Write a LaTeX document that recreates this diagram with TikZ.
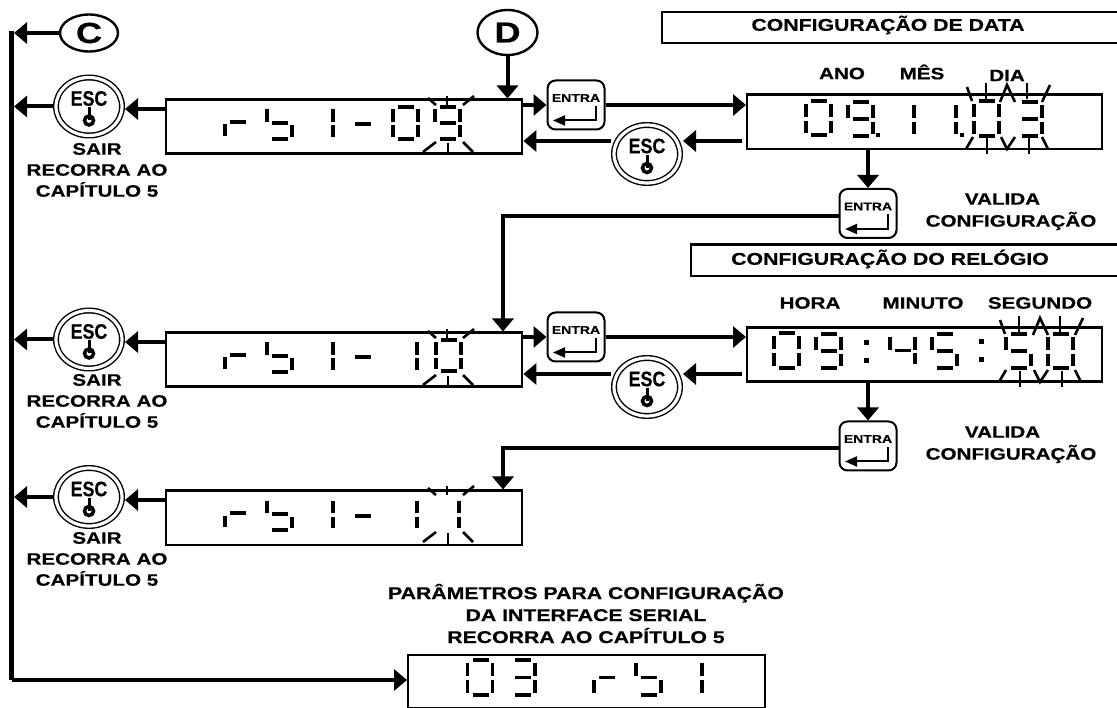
\documentclass[tikz,border=0pt]{standalone}
\usepackage{fontspec}
\setmainfont[FakeStretch=1.25,FakeBold=0.5]{Liberation Sans}
\usepackage{tikz}
\usetikzlibrary{arrows.meta,shapes.geometric,calc}

\tikzset{
	wire/.style={line width=4pt,-{Triangle[length=13pt,width=21pt]}},
	dispbox/.style={draw,line width=2.4pt,inner sep=0pt,anchor=north west},
	headbox/.style={draw,line width=2.4pt,inner sep=0pt,anchor=north west},
	lbl/.style={font=\bfseries\fontsize{16.5}{21}\selectfont,align=center,inner sep=0pt},
	bigl/.style={font=\bfseries\fontsize{17}{22}\selectfont,align=center,inner sep=0pt},
	lettercirc/.style={draw,ellipse,line width=2.4pt,inner sep=0pt,font=\bfseries\fontsize{29}{29}\selectfont},
	entrabox/.style={draw,line width=2pt,rounded corners=8pt,minimum width=57pt,minimum height=49pt,inner sep=0pt},
	esccirc/.style={draw,ellipse,double,double distance=3.2pt,line width=1.4pt,minimum width=66pt,minimum height=58pt,inner sep=0pt,outer sep=3pt},
	seg/.style={line width=3.6pt},
	ray/.style={line width=2.6pt}
}

% one digit: left, top, height, lit segments
\newcommand{\digitseg}[4]{
	\begin{scope}[shift={(#1,#2)},yscale=#3/32]
		\foreach \s in {#4}{
			\ifx\s\segA\draw[seg] (5,0) -- (21,0);\fi
			\ifx\s\segB\draw[seg] (25,2.5) -- (25,15);\fi
			\ifx\s\segC\draw[seg] (25,18.5) -- (25,30);\fi
			\ifx\s\segD\draw[seg] (5,32) -- (21,32);\fi
			\ifx\s\segE\draw[seg] (0,18.5) -- (0,30);\fi
			\ifx\s\segF\draw[seg] (0,2.5) -- (0,15);\fi
			\ifx\s\segG\draw[seg] (5,16) -- (21,16);\fi
		}
	\end{scope}
}
\def\segA{a}\def\segB{b}\def\segC{c}\def\segD{d}\def\segE{e}\def\segF{f}\def\segG{g}

% square dot of a display
\newcommand{\segdot}[3]{
	\fill (#1-#3,#2-#3) rectangle (#1+#3,#2+#3);
}

% the marks round a blinking digit (left display)
\newcommand{\blinkone}[1]{
	\begin{scope}[shift={(0,#1)}]
		\draw[ray] (428,98) -- (436,105);
		\draw[ray] (447,96) -- (447,105);
		\draw[ray] (474,96) -- (463,105);
		\draw[ray] (436,142) -- (423,152);
		\draw[ray] (448,143) -- (448,155);
		\draw[ray] (463,142) -- (473,152);
	\end{scope}
}
% the marks round two blinking digits (right display)
\newcommand{\blinktwo}[2]{
	\begin{scope}[shift={(#1,#2)}]
		\draw[ray] (967,87) -- (972,101);
		\draw[ray] (986,83) -- (986,99);
		\draw[ray] (1000,102) -- (1007,85) -- (1015,102);
		\draw[ray] (1027,83) -- (1027,99);
		\draw[ray] (1050,85) -- (1042,102);
		\draw[ray] (973,137) -- (966,149);
		\draw[ray] (987,138) -- (987,154);
		\draw[ray] (1001,137) -- (1007,149) -- (1015,137);
		\draw[ray] (1029,138) -- (1029,154);
		\draw[ray] (1042,137) -- (1048,149);
	\end{scope}
}
% key with the return arrow
\newcommand{\entrakey}[3]{
	\node[entrabox] (#1) at (#2,#3) {};
	\node[font=\bfseries\fontsize{11.2}{10}\selectfont,inner sep=0pt] (#1t) at (#2,#3-7) {ENTRA};
	\coordinate (#1a) at (#2+20,#3+1);
	\coordinate (#1b) at (#2-23,#3+15.5);
	\draw[line width=2pt,-{Triangle[length=12pt,width=10pt]}] (#1a) |- (#1b);
}
% key with the power mark
\newcommand{\esckey}[3]{
	\node[esccirc] (#1) at (#2,#3) {};
	\node[font=\bfseries\fontsize{21}{21}\selectfont,inner sep=0pt] (#1t) at (#2,#3-8) {\addfontfeature{FakeStretch=0.85}ESC};
	\node[draw,circle,line width=3.5pt,minimum size=9pt,inner sep=0pt] (#1p) at (#2,#3+14) {};
	\draw[line width=3pt] (#2,#3+1) -- (#1p.center);
}

\begin{document}
\begin{tikzpicture}[x=1pt,y=-1pt]
	\useasboundingbox (0,0) rectangle (1117,708);
	
	% titles
	\node[headbox,minimum width=458pt,minimum height=31pt] (datehead) at (661,11) {};
	\node[bigl] (datetitle) at (888,25) {CONFIGURAÇÃO DE DATA};
	\node[headbox,minimum width=429pt,minimum height=31.5pt] (timehead) at (690,243.5) {};
	\node[bigl] (timetitle) at (890,259) {CONFIGURAÇÃO DO RELÓGIO};
	
	% displays
	\node[dispbox,minimum width=356pt,minimum height=54pt] (rb09) at (165,98.5) {};
	\node[dispbox,minimum width=356pt,minimum height=54pt] (rb10) at (165,331.5) {};
	\node[dispbox,minimum width=356pt,minimum height=54pt] (rb11) at (165,489.5) {};
	\node[dispbox,minimum width=357pt,minimum height=53pt] (rb03) at (407,653.5) {};
	\node[dispbox,minimum width=355pt,minimum height=54.5pt] (datebox) at (746,93.5) {};
	\node[dispbox,minimum width=355pt,minimum height=54pt] (timebox) at (746,326.5) {};
	
	% display digits
	\digitseg{225}{106}{32}{e,g}
	\digitseg{267}{107}{32}{f,g,c,d}
	\digitseg{308}{107}{32}{b,c}
	\digitseg{350}{108}{32}{g}
	\digitseg{393}{107}{32}{a,b,c,d,e,f}
	\digitseg{435}{107}{32}{a,b,c,d,f,g}
	\blinkone{0}
	
	\digitseg{225}{339}{32}{e,g}
	\digitseg{267}{340}{32}{f,g,c,d}
	\digitseg{308}{340}{32}{b,c}
	\digitseg{350}{341}{32}{g}
	\digitseg{392}{340}{32}{b,c}
	\digitseg{436}{340}{31}{a,b,c,d,e,f}
	\blinkone{233}
	
	\digitseg{225}{497}{32}{e,g}
	\digitseg{267}{498}{32}{f,g,c,d}
	\digitseg{308}{498}{32}{b,c}
	\digitseg{350}{500}{32}{g}
	\digitseg{392}{498}{32}{b,c}
	\digitseg{434}{498}{32}{b,c}
	\blinkone{390}
	
	\digitseg{467.5}{660}{35}{a,b,c,d,e,f}
	\digitseg{510}{660}{35}{a,b,c,d,g}
	\digitseg{594}{660}{35}{e,g}
	\digitseg{636}{660}{35}{f,g,c,d}
	\digitseg{677}{660}{35}{b,c}
	
	\digitseg{806}{101}{34}{a,b,c,d,e,f}
	\digitseg{848}{102}{34}{a,b,c,d,f,g}
	\segdot{878}{135.5}{2}
	\digitseg{889}{102}{34}{b,c}
	\digitseg{931}{102}{34}{b,c}
	\segdot{962}{135.5}{2}
	\digitseg{974}{101}{35}{a,b,c,d,e,f}
	\digitseg{1017}{102}{34}{a,b,c,d,g}
	\blinktwo{0}{0}
	
	\digitseg{774}{333}{35}{a,b,c,d,e,f}
	\digitseg{816}{334}{34}{a,b,c,d,f,g}
	\segdot{866}{343}{2.5}
	\segdot{866}{361}{2.5}
	\digitseg{890}{335}{31}{f,b,g,c}
	\digitseg{932}{334}{34}{a,f,g,c,d}
	\segdot{981}{342}{2.5}
	\segdot{981}{360}{2.5}
	\digitseg{1006}{334}{34}{a,f,g,c,d}
	\digitseg{1048}{334}{34}{a,b,c,d,e,f}
	\blinktwo{33}{233}
	
	% keys
	\node[lettercirc,minimum width=58pt,minimum height=37pt] (keyc) at (89,33) {C};
	\node[lettercirc,minimum width=60pt,minimum height=45pt] (keyd) at (507.5,32.5) {D};
	\esckey{esca}{89}{106.5}
	\esckey{escb}{89}{339.5}
	\esckey{escc}{89}{497}
	\esckey{escd}{647}{154}
	\esckey{esce}{647}{387}
	\entrakey{enta}{576}{105}
	\entrakey{entb}{576}{337}
	\entrakey{entc}{868}{213.5}
	\entrakey{entd}{868}{446}
	
	% left rail
	\coordinate (railtop) at (11.5,31);
	\coordinate (railbot) at (11.5,680);
	\draw[line width=4.5pt] (railtop) -- (railbot);
	\draw[wire] (railbot) -- (rb03.west |- railbot);
	\draw[wire] (keyc.west) -- (14,33);
	
	% connectors
	\draw[wire] (esca.west) -- (14,106.5);
	\draw[wire] (escb.west) -- (14,339.5);
	\draw[wire] (escc.west) -- (14,497);
	\draw[wire] (rb09.west |- 0,109) -- (esca.east |- 0,109);
	\draw[wire] (rb10.west |- 0,342) -- (escb.east |- 0,342);
	\draw[wire] (rb11.west |- 0,500) -- (escc.east |- 0,500);
	\draw[wire] (keyd.south) -- (keyd.south |- rb09.north);
	\draw[wire] (rb09.east |- enta.west) -- (enta.west);
	\draw[wire] (rb10.east |- entb.west) -- (entb.west);
	\draw[wire] (enta.east) -- (datebox.west |- enta.east);
	\draw[wire] (entb.east) -- (timebox.west |- entb.east);
	\coordinate (backa) at (742,141);
	\coordinate (backb) at (742,374);
	\draw[wire] (backa) -- (escd.east |- backa);
	\draw[wire] (backb) -- (esce.east |- backb);
	\draw[wire] (escd.west |- backa) -- (rb09.east |- backa);
	\draw[wire] (esce.west |- backb) -- (rb10.east |- backb);
	\draw[wire] (entc.north |- datebox.south) -- (entc.north);
	\draw[wire] (entd.north |- timebox.south) -- (entd.north);
	\coordinate (turna) at (503,216);
	\coordinate (turnb) at (503,448);
	\draw[wire] (entc.west |- turna) -- (turna) -- (turna |- rb10.north);
	\draw[wire] (entd.west |- turnb) -- (turnb) -- (turnb |- rb11.north);
	
	% labels
	\node[lbl] (saira) at (97,170) {SAIR\\RECORRA AO\\CAPÍTULO 5};
	\node[lbl] (sairb) at (97,401) {SAIR\\RECORRA AO\\CAPÍTULO 5};
	\node[lbl] (sairc) at (97,559) {SAIR\\RECORRA AO\\CAPÍTULO 5};
	\node[lbl] (anolbl) at (842,73.5) {ANO};
	\node[lbl] (meslbl) at (922,72) {MÊS};
	\node[lbl] (dialbl) at (1007,75.5) {DIA};
	\node[lbl] (horalbl) at (810,303) {HORA};
	\node[lbl] (minlbl) at (923,303) {MINUTO};
	\node[lbl] (seglbl) at (1040,303) {SEGUNDO};
	\node[lbl] (valida) at (1002.5,199) {VALIDA};
	\node[lbl] (confa) at (1011,221) {CONFIGURAÇÃO};
	\node[lbl] (validb) at (1002.5,432) {VALIDA};
	\node[lbl] (confb) at (1011,454) {CONFIGURAÇÃO};
	\node[bigl] (serial) at (586,613.5) {PARÂMETROS PARA CONFIGURAÇÃO\\DA INTERFACE SERIAL\\RECORRA AO CAPÍTULO 5};
	
\end{tikzpicture}
\end{document}
